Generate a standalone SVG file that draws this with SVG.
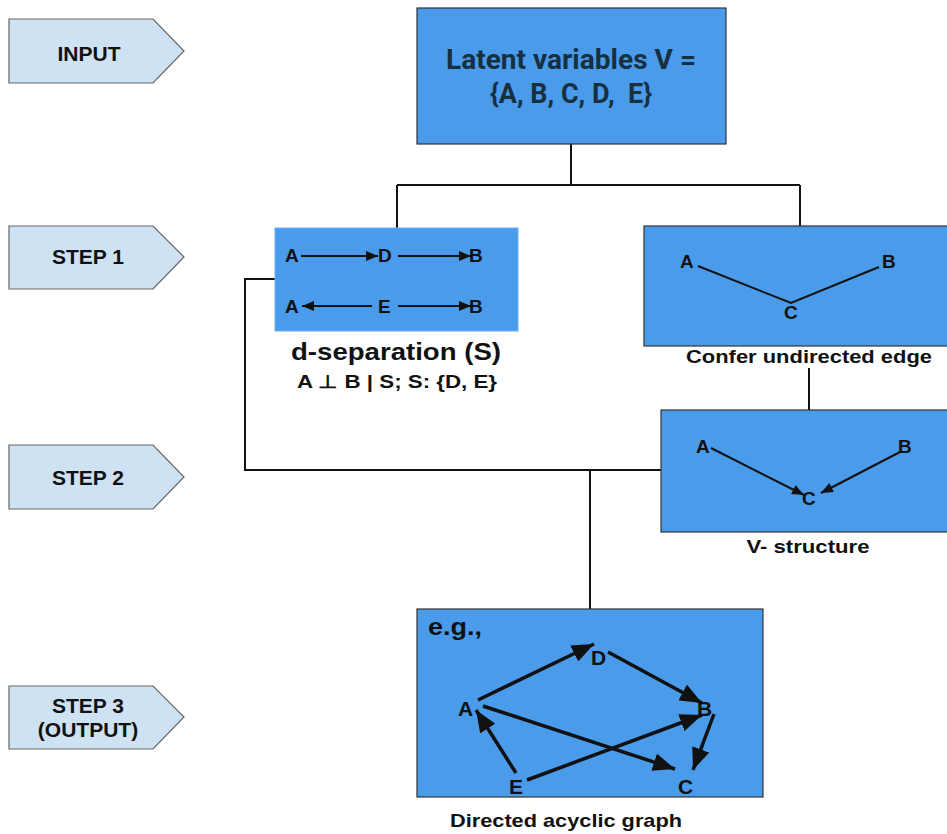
<svg xmlns="http://www.w3.org/2000/svg" width="947" height="834" viewBox="0 0 947 834">
<style>
.step{fill:#cfe2f3;stroke:#666;stroke-width:1.2}
.steptxt{font-family:"Liberation Sans",Arial,sans-serif;font-weight:bold;font-size:21px;fill:#111;text-anchor:middle}
.box{fill:#4a9bea;stroke:#333;stroke-width:1.2}
.box1{fill:#4a9bea;stroke:#6aaef0;stroke-width:1}
.lbl{font-family:"Liberation Sans",Arial,sans-serif;font-weight:bold;fill:#111}
.nd{font-family:"Liberation Sans",Arial,sans-serif;font-weight:bold;font-size:19px;fill:#111}
.nd4{font-family:"Liberation Sans",Arial,sans-serif;font-weight:bold;font-size:21px;fill:#111}
.conn{fill:none;stroke:#111;stroke-width:2}
.e1{stroke:#111;stroke-width:2;fill:none}
.e3{stroke:#111;stroke-width:3.5;fill:none}
</style>
<defs>
<marker id="ah" markerUnits="userSpaceOnUse" markerWidth="14" markerHeight="10" refX="12" refY="5" orient="auto"><path d="M0,0 L12,5 L0,10 z" fill="#111"/></marker>
<marker id="ahb" markerUnits="userSpaceOnUse" markerWidth="24" markerHeight="18" refX="22" refY="9" orient="auto"><path d="M0,0 L22,9 L0,18 z" fill="#111"/></marker>
</defs>

<g id="input-label"><path class="step" d="M9,19 H153 L184,51 L153,83 H9 Z"/><text class="steptxt" x="89" y="61">INPUT</text></g>
<g id="step1-label"><path class="step" d="M9,226 H153 L184,257 L153,289 H9 Z"/><text class="steptxt" x="88" y="264">STEP 1</text></g>
<g id="step2-label"><path class="step" d="M9,445 H153 L184,477 L153,509 H9 Z"/><text class="steptxt" x="88" y="485">STEP 2</text></g>
<g id="step3-label"><path class="step" d="M9,686 H153 L184,717 L153,749 H9 Z"/><text class="steptxt" x="88" y="713">STEP 3</text><text class="steptxt" x="88" y="737">(OUTPUT)</text></g>

<g id="connectors">
<path class="conn" d="M571,144 V185 M397,185 H800 M397,185 V228 M800,185 V226"/>
<path class="conn" d="M809,368 V410"/>
<path class="conn" d="M275,279 H245 V470 H661 M590,470 V609"/>
</g>

<g id="input-node">
<rect class="box" x="417" y="8" width="309" height="136"/>
<text x="571" y="69" font-family="Roboto,'Liberation Sans',sans-serif" font-weight="bold" font-size="27" fill="#17303f" text-anchor="middle" textLength="250" lengthAdjust="spacingAndGlyphs">Latent variables V =</text>
<text x="571" y="103" font-family="Roboto,'Liberation Sans',sans-serif" font-weight="bold" font-size="27" fill="#17303f" text-anchor="middle" xml:space="preserve">{A, B, C, D,  E}</text>
</g>

<g id="dsep-node">
<rect class="box1" x="275" y="228" width="243" height="103"/>
<text class="nd" x="285" y="262">A</text>
<text class="nd" x="378" y="262">D</text>
<text class="nd" x="469" y="262">B</text>
<text class="nd" x="285" y="313">A</text>
<text class="nd" x="378" y="313">E</text>
<text class="nd" x="469" y="313">B</text>
<line class="e1" x1="301" y1="256" x2="378" y2="256" marker-end="url(#ah)"/>
<line class="e1" x1="398" y1="256" x2="471" y2="256" marker-end="url(#ah)"/>
<line class="e1" x1="372" y1="306" x2="302" y2="306" marker-end="url(#ah)"/>
<line class="e1" x1="398" y1="306" x2="471" y2="306" marker-end="url(#ah)"/>
<text class="lbl" x="396" y="360" font-size="24" text-anchor="middle" textLength="210" lengthAdjust="spacingAndGlyphs">d-separation (S)</text>
<text class="lbl" x="397" y="388" font-size="18" text-anchor="middle" textLength="200" lengthAdjust="spacingAndGlyphs">A ⊥ B | S; S: {D, E}</text>
</g>

<g id="undirected-node">
<rect class="box" x="644" y="226" width="310" height="120"/>
<text class="nd" x="680" y="268">A</text>
<text class="nd" x="882" y="268">B</text>
<text class="nd" x="784" y="319">C</text>
<polyline class="e1" points="698,266 791,303 879,267"/>
<text class="lbl" x="809" y="363" font-size="19" text-anchor="middle" textLength="246" lengthAdjust="spacingAndGlyphs">Confer undirected edge</text>
</g>

<g id="vstructure-node">
<rect class="box" x="661" y="410" width="293" height="122"/>
<text class="nd" x="696" y="453">A</text>
<text class="nd" x="898" y="453">B</text>
<text class="nd" x="802" y="505">C</text>
<line class="e1" x1="711" y1="448" x2="804" y2="495" marker-end="url(#ah)"/>
<line class="e1" x1="900" y1="452" x2="821" y2="493" marker-end="url(#ah)"/>
<text class="lbl" x="808" y="553" font-size="19" text-anchor="middle" textLength="123" lengthAdjust="spacingAndGlyphs">V- structure</text>
</g>

<g id="dag-node">
<rect class="box" x="417" y="609" width="346" height="188"/>
<text class="lbl" x="428" y="635" font-size="24" textLength="54" lengthAdjust="spacingAndGlyphs">e.g.,</text>
<text class="nd4" x="591" y="665">D</text>
<text class="nd4" x="458" y="716">A</text>
<text class="nd4" x="697" y="716">B</text>
<text class="nd4" x="509" y="794">E</text>
<text class="nd4" x="678" y="794">C</text>
<line class="e3" x1="478" y1="700" x2="594" y2="644" marker-end="url(#ahb)"/>
<line class="e3" x1="608" y1="652" x2="702" y2="703" marker-end="url(#ahb)"/>
<line class="e3" x1="483" y1="706" x2="675" y2="769" marker-end="url(#ahb)"/>
<line class="e3" x1="527" y1="780" x2="702" y2="715" marker-end="url(#ahb)"/>
<line class="e3" x1="516" y1="773" x2="476" y2="710" marker-end="url(#ahb)"/>
<line class="e3" x1="714" y1="714" x2="693" y2="770" marker-end="url(#ahb)"/>
<text class="lbl" x="566" y="827" font-size="19" text-anchor="middle" textLength="232" lengthAdjust="spacingAndGlyphs">Directed acyclic graph</text>
</g>
</svg>
